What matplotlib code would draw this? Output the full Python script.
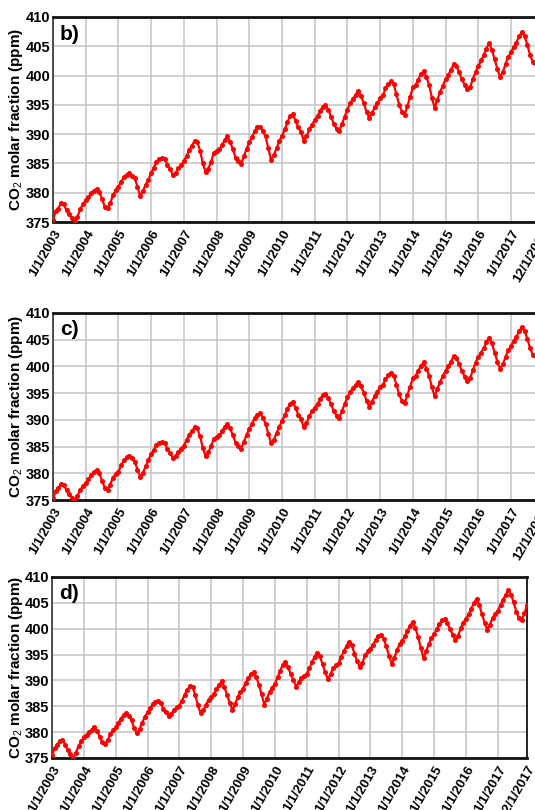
import pandas as pd
import numpy as np
import matplotlib
matplotlib.use("Agg")
import matplotlib.pyplot as plt

# Monthly CO2 molar fraction (ppm), Jan 2003 .. Dec 2017
co2_b = [
    375.4, 376.8, 377.3, 378.3, 378.0, 377.0, 376.3, 375.6, 375.0, 375.9, 377.2, 378.0,
    378.8, 379.3, 379.9, 380.3, 380.7, 380.2, 378.9, 377.6, 377.4, 378.2, 379.6, 380.4,
    381.0, 381.9, 382.6, 383.1, 383.4, 382.9, 382.5, 381.0, 379.4, 380.3, 381.4, 382.2,
    383.4, 384.3, 385.2, 385.8, 385.9, 385.8, 384.8, 384.0, 383.0, 383.4, 384.2, 384.7,
    385.4, 386.3, 387.3, 388.0, 388.9, 388.6, 387.2, 385.0, 383.5, 384.1, 385.3, 386.8,
    387.2, 387.4, 388.1, 389.0, 389.6, 388.7, 387.4, 386.0, 385.4, 384.9, 386.2, 387.5,
    388.6, 389.5, 390.5, 391.2, 391.3, 390.5, 389.6, 387.6, 385.6, 386.4, 387.6, 388.8,
    389.7, 390.8, 392.0, 393.1, 393.4, 392.3, 391.2, 390.4, 388.9, 389.6, 390.8, 391.6,
    392.4, 393.1, 394.0, 394.7, 394.9, 394.2, 393.0, 391.8, 390.9, 390.5, 391.7, 393.0,
    394.2, 395.3, 396.0, 396.7, 397.3, 396.5, 395.3, 393.8, 392.8, 393.6, 394.6, 395.3,
    396.1, 396.6, 397.8, 398.6, 399.0, 398.5, 396.8, 395.0, 393.8, 393.3, 394.8, 396.4,
    398.0, 398.4, 399.3, 400.2, 400.8, 399.7, 398.4, 396.2, 394.5, 395.9, 397.2, 398.3,
    399.4, 400.1, 401.0, 401.9, 401.6, 400.6, 399.4, 398.4, 397.7, 398.0, 399.4, 400.6,
    401.6, 402.6, 403.5, 404.6, 405.6, 404.4, 402.8, 401.1, 399.7, 400.6, 402.0, 403.2,
    404.0, 404.9, 405.6, 406.7, 407.4, 406.7, 405.3, 403.5, 402.3, 401.9, 402.6, 404.4,
]
co2_c = [
    375.3, 376.6, 377.2, 378.0, 377.8, 376.9, 376.1, 375.4, 374.8, 375.7, 376.9, 377.6,
    378.1, 378.9, 379.6, 380.2, 380.6, 380.0, 378.6, 377.3, 376.9, 377.9, 379.2, 379.9,
    380.3, 381.5, 382.4, 383.0, 383.3, 382.8, 382.2, 380.7, 379.3, 380.1, 381.3, 382.5,
    383.6, 384.4, 385.3, 385.7, 385.8, 385.7, 384.6, 383.8, 382.9, 383.3, 384.0, 384.6,
    385.2, 386.2, 387.2, 387.9, 388.6, 388.4, 386.9, 384.7, 383.2, 383.9, 385.1, 386.5,
    386.8, 387.1, 387.9, 388.7, 389.3, 388.4, 387.1, 385.7, 385.1, 384.6, 385.9, 387.2,
    388.3, 389.3, 390.3, 391.0, 391.2, 390.4, 389.3, 387.4, 385.6, 386.3, 387.5, 388.7,
    389.8, 390.9, 392.0, 393.0, 393.4, 392.2, 391.0, 390.1, 388.6, 389.4, 390.7, 391.6,
    392.3, 393.0, 393.9, 394.6, 394.9, 394.1, 392.9, 391.7, 390.8, 390.4, 391.6, 393.0,
    394.2, 395.2, 395.9, 396.6, 397.1, 396.3, 395.1, 393.6, 392.5, 393.4, 394.5, 395.3,
    396.1, 396.6, 397.6, 398.4, 398.8, 398.3, 396.6, 394.8, 393.5, 393.1, 394.7, 396.2,
    397.8, 398.3, 399.2, 400.1, 400.8, 399.6, 398.3, 396.1, 394.4, 395.8, 397.1, 398.2,
    399.2, 400.0, 400.9, 401.9, 401.5, 400.4, 399.2, 398.1, 397.3, 397.8, 399.3, 400.7,
    401.8, 402.6, 403.4, 404.5, 405.4, 404.3, 402.6, 400.9, 399.5, 400.4, 401.8, 403.0,
    403.9, 404.8, 405.5, 406.6, 407.3, 406.6, 405.2, 403.4, 402.2, 401.9, 402.5, 404.4,
]
co2_d = [
    375.5, 376.9, 377.6, 378.3, 378.5, 377.6, 376.6, 375.8, 375.0, 376.0, 377.3, 378.2,
    379.0, 379.5, 380.0, 380.5, 380.9, 380.3, 379.1, 378.0, 377.7, 378.4, 379.6, 380.4,
    380.9, 381.8, 382.6, 383.3, 383.7, 383.2, 382.3, 380.8, 379.8, 380.6, 381.8, 383.0,
    383.8, 384.6, 385.4, 385.9, 386.1, 385.6, 384.5, 383.8, 383.2, 383.6, 384.3, 384.8,
    385.1, 386.1, 387.2, 388.1, 388.9, 388.8, 387.2, 385.2, 383.7, 384.2, 385.2, 386.3,
    386.7, 387.3, 388.3, 389.2, 389.8, 388.7, 387.2, 385.6, 384.3, 385.4, 386.8, 387.7,
    388.4, 389.5, 390.5, 391.2, 391.6, 390.6, 389.2, 387.3, 385.3, 386.5, 387.8, 388.6,
    389.4, 390.6, 391.8, 393.0, 393.6, 392.5, 391.3, 390.1, 388.8, 389.6, 390.4, 390.8,
    391.2, 392.4, 393.5, 394.6, 395.4, 394.7, 393.1, 391.6, 390.2, 391.3, 392.4, 392.9,
    393.3, 394.6, 395.6, 396.7, 397.5, 396.8, 395.2, 393.7, 392.6, 393.4, 394.9, 395.6,
    396.1, 396.9, 397.9, 398.6, 398.8, 398.1, 396.6, 394.8, 393.2, 394.3, 395.9, 397.0,
    397.7, 398.5, 399.6, 400.6, 401.3, 400.1, 398.4, 396.3, 394.3, 395.6, 397.1, 398.2,
    399.0, 399.9, 400.9, 401.6, 401.9, 401.1, 400.0, 398.8, 397.9, 398.5, 400.1, 401.2,
    401.9, 402.8, 403.9, 404.9, 405.8, 404.6, 402.9, 401.2, 399.8, 400.8, 402.1, 402.9,
    403.5, 404.6, 405.6, 406.6, 407.4, 406.6, 405.1, 403.3, 402.0, 401.6, 403.0, 404.5,
]

months = pd.date_range("2003-01-01", "2017-12-01", freq="MS")
tick_dates = [pd.Timestamp(f"{y}-01-01") for y in range(2003, 2018)] + [pd.Timestamp("2017-12-01")]
tick_labels = [f"1/1/{y}" for y in range(2003, 2018)] + ["12/1/2017"]
y_ticks = [375, 380, 385, 390, 395, 400, 405, 410]

panels = ["b)", "c)", "d)"]
series = [co2_b, co2_c, co2_d]

plt.rcParams["mathtext.fontset"] = "custom"
plt.rcParams["mathtext.rm"] = "Liberation Sans"
font = ["Liberation Sans", "DejaVu Sans"]

W, H = 535, 810
fig = plt.figure(figsize=(W / 100, H / 100), dpi=100)

# axes boxes in pixels: left, right, top, bottom
boxes = [(53, 541, 17, 222), (53, 541, 313, 500), (52, 527, 577, 758)]

for (l, r, t, b), vals, lab in zip(boxes, series, panels):
    ax = fig.add_axes([l / W, 1 - b / H, (r - l) / W, (b - t) / H])
    ax.plot(months, vals, color="#ff0000", lw=1.6, marker="o", ms=2.6,
            mec="#ff0000", mfc="#ff0000", zorder=3)
    ax.set_xlim(months[0], months[-1])
    ax.set_ylim(375, 410)
    ax.set_xticks(tick_dates)
    ax.set_xticklabels(tick_labels, rotation=60, ha="right", va="top",
                       rotation_mode="anchor", fontsize=9.5, fontweight="bold",
                       family=font)
    ax.set_yticks(y_ticks)
    ax.set_yticklabels([str(v) for v in y_ticks], fontsize=10.5,
                       fontweight="bold", family=font)
    ax.tick_params(axis="both", length=0, pad=2)
    ax.tick_params(axis="x", pad=4)
    ax.grid(True, color="#c8c8c8", lw=1.2)
    ax.set_axisbelow(True)
    for side in ["top", "bottom"]:
        ax.spines[side].set_linewidth(2.0)
        ax.spines[side].set_color("#111111")
    ax.spines["left"].set_linewidth(1.1)
    ax.spines["left"].set_color("#222222")
    ax.spines["right"].set_linewidth(1.4)
    ax.spines["right"].set_color("#222222")
    ax.set_ylabel(r"CO$_2$ molar fraction (ppm)", fontsize=11,
                  fontweight="bold", family=font)
    ax.yaxis.set_label_coords((25 - l) / (r - l), 0.5)
    ax.text(7 / (r - l), 0.96, lab, transform=ax.transAxes, ha="left",
            va="top", fontsize=15, fontweight="bold", family=font)

fig.savefig("out.png", dpi=100)
